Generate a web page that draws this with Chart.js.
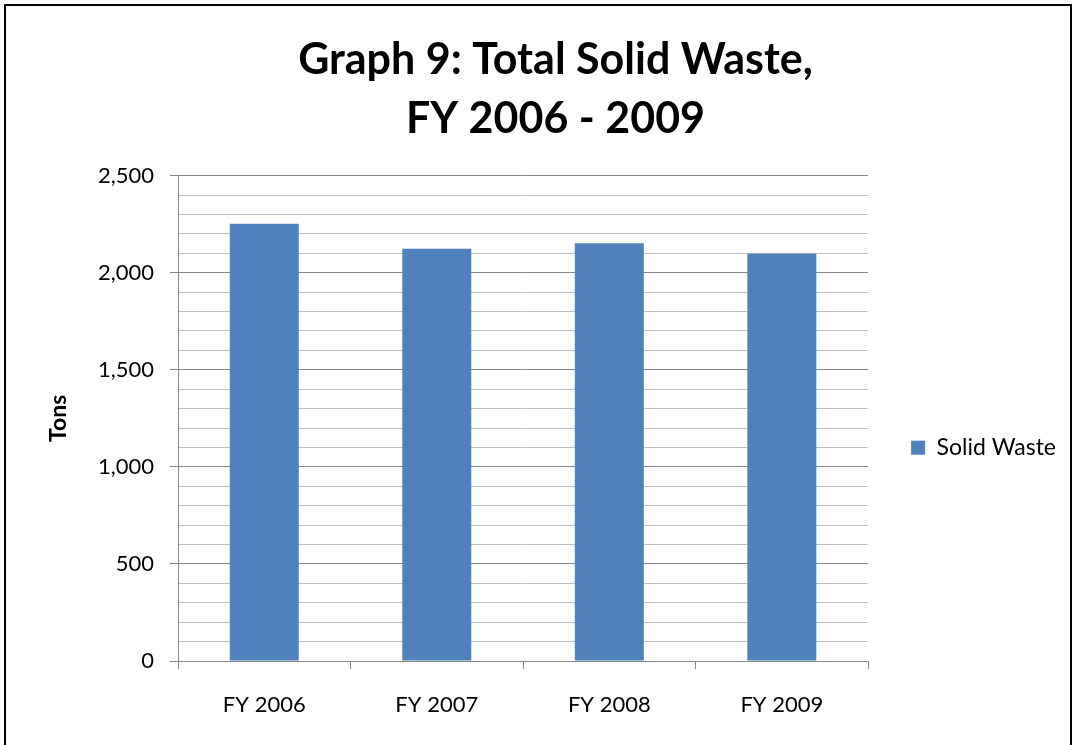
<!DOCTYPE html>
<html>
<head>
<meta charset="utf-8">
<script src="https://cdn.jsdelivr.net/npm/chart.js@4"></script>
<style>
  body { margin: 0; background: #fff; }
  #wrap { position: relative; width: 1076px; height: 745px; }
  #frame { position: absolute; left: 4px; top: 4px; width: 1068px; height: 760px; border: 2px solid #000; box-sizing: border-box; pointer-events: none; }
</style>
</head>
<body>
<div id="wrap">
  <canvas id="myChart" width="1076" height="745"></canvas>
  <div id="frame"></div>
</div>
<script>
var years = ['FY 2006', 'FY 2007', 'FY 2008', 'FY 2009'];
var solidWaste = [2252, 2124, 2152, 2098];
var titleLines = ['Graph 9: Total Solid Waste,', 'FY 2006 - 2009'];

var font = "Lato, 'Open Sans', sans-serif";

var ctx = document.getElementById('myChart').getContext('2d');
var myChart = new Chart(ctx, {
    type: 'bar',
    data: {
        labels: years,
        datasets: [{
            label: 'Solid Waste',
            data: solidWaste,
            backgroundColor: '#4f81bd',
            borderWidth: 0,
            categoryPercentage: 1,
            barPercentage: 0.4
        }]
    },
    options: {
        responsive: false,
        animation: false,
        layout: { padding: { left: 45, right: 10, top: 30, bottom: 0 } },
        plugins: {
            title: {
                display: true,
                text: titleLines,
                color: '#000',
                font: { family: font, size: 43, weight: 'bold', lineHeight: 1.38 },
                padding: { top: 0, bottom: 27 }
            },
            legend: {
                position: 'right',
                title: { display: true, text: '', padding: { top: 0, bottom: 106 } },
                labels: {
                    color: '#000',
                    font: { family: font, size: 23 },
                    boxWidth: 14,
                    boxHeight: 14,
                    padding: 43
                }
            },
            tooltip: { enabled: false }
        },
        scales: {
            x: {
                grid: {
                    drawOnChartArea: false,
                    tickLength: 8,
                    tickColor: '#868686'
                },
                border: { color: '#868686' },
                ticks: { color: '#000', font: { family: font, size: 22 }, padding: 23 },
                afterFit: function (scale) { scale.height = 84; }
            },
            y: {
                min: 0,
                max: 2500,
                title: {
                    display: true,
                    text: 'Tons',
                    color: '#000',
                    font: { family: font, size: 23, weight: 'bold' },
                    padding: 0
                },
                grid: {
                    tickLength: 8,
                    color: function (c) { return c.tick && c.tick.value % 500 === 0 ? '#868686' : '#bfbfbf'; },
                    tickColor: function (c) { return c.tick && c.tick.value % 500 === 0 ? '#868686' : 'rgba(0,0,0,0)'; }
                },
                border: { color: '#868686' },
                ticks: {
                    stepSize: 100,
                    autoSkip: false,
                    padding: 16,
                    color: '#000',
                    font: { family: font, size: 22 },
                    callback: function (v) { return v % 500 === 0 ? v.toLocaleString('en-US') : ''; }
                },
                afterFit: function (scale) { scale.width = 133; }
            }
        }
    }
});
</script>
</body>
</html>
